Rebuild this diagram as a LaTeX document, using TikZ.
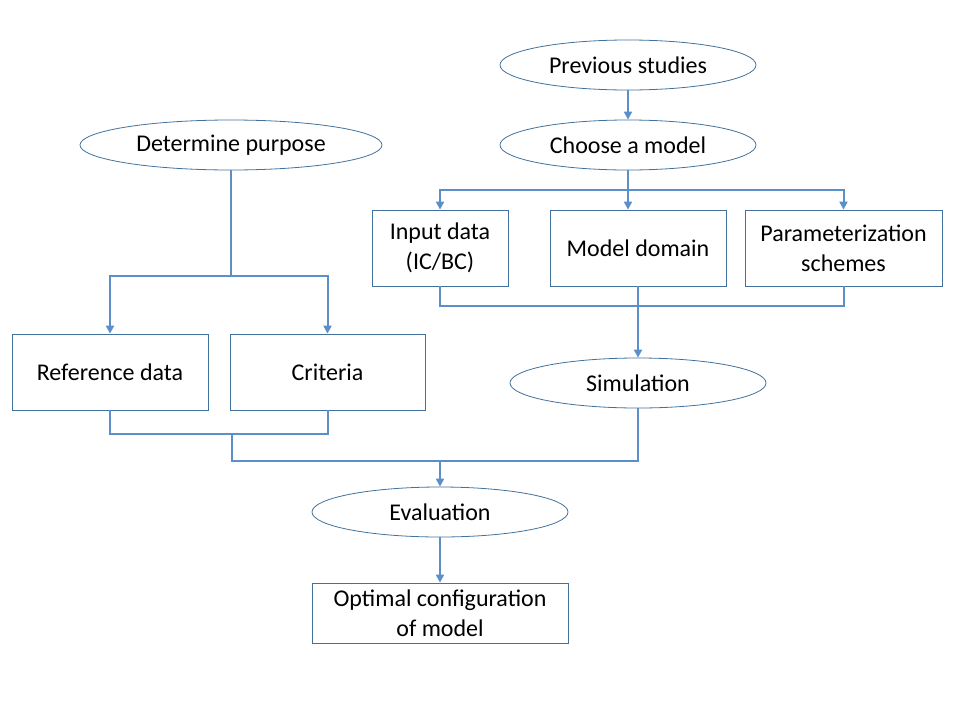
\documentclass[tikz,border=0pt]{standalone}
\usepackage{fontspec}
\setmainfont{Carlito}
\usetikzlibrary{shapes.geometric,arrows.meta}
\definecolor{linec}{HTML}{5B8FC9}
\definecolor{boxc}{HTML}{41719C}
\tikzset{
  ell/.style={ellipse, draw=boxc, line width=0.8pt, minimum width=256pt, minimum height=50pt, inner sep=0pt, font=\fontsize{24}{30}\selectfont},
  rbox/.style={rectangle, draw=boxc, line width=0.8pt, inner sep=0pt, align=center, font=\fontsize{24}{30}\selectfont},
  conn/.style={draw=linec, line width=2pt},
  arr/.style={conn, -{Triangle[length=8pt,width=8pt]}}
}
\begin{document}
\begin{tikzpicture}[x=1pt,y=-1pt]
\useasboundingbox (0,0) rectangle (960,720);
\node[ell] (prev) at (628,65) {Previous studies};
\node[ell] (choose) at (628,145) {Choose a model};
\node[ell, minimum width=302pt] (purpose) at (231,145) {Determine purpose};
\node[rbox, minimum width=136pt, minimum height=76pt] (input) at (440,248) {Input data\\(IC/BC)};
\node[rbox, minimum width=176pt, minimum height=76pt] (domain) at (638,248) {Model domain};
\node[rbox, minimum width=197pt, minimum height=76pt] (param) at (843.5,248) {Parameterization\\schemes};
\node[ell] (sim) at (638,383) {Simulation};
\node[rbox, minimum width=196pt, minimum height=76pt] (ref) at (110,372) {Reference data};
\node[rbox, minimum width=195pt, minimum height=76pt] (crit) at (327.5,372) {Criteria};
\node[ell] (eval) at (440,512) {Evaluation};
\node[rbox, minimum width=256pt, minimum height=60pt] (opt) at (440,613) {Optimal configuration\\of model};

\coordinate (cj) at (628,190);
\coordinate (pj) at (231,276);
\coordinate (mj) at (638,306);
\coordinate (rj) at (232,434);
\coordinate (ej) at (440,461);

\draw[arr] (prev) -- (choose);
\draw[conn] (choose) -- (cj);
\draw[arr] (cj) -- (choose.south |- input.north);
\draw[arr] (cj) -| (input.north);
\draw[arr] (cj) -| (param.north);

\draw[conn] (input.south) |- (mj);
\draw[conn] (param.south) |- (mj);
\draw[arr] (domain.south) -- (sim.north);

\draw[conn] (purpose.south) -- (pj);
\draw[arr] (pj) -| (ref.north);
\draw[arr] (pj) -| (crit.north);

\draw[conn] (ref.south) |- (rj);
\draw[conn] (crit.south) |- (rj);
\draw[conn] (rj) |- (ej);
\draw[conn] (sim.south) |- (ej);
\draw[arr] (ej) -- (eval.north);
\draw[arr] (eval) -- (opt);
\end{tikzpicture}
\end{document}
